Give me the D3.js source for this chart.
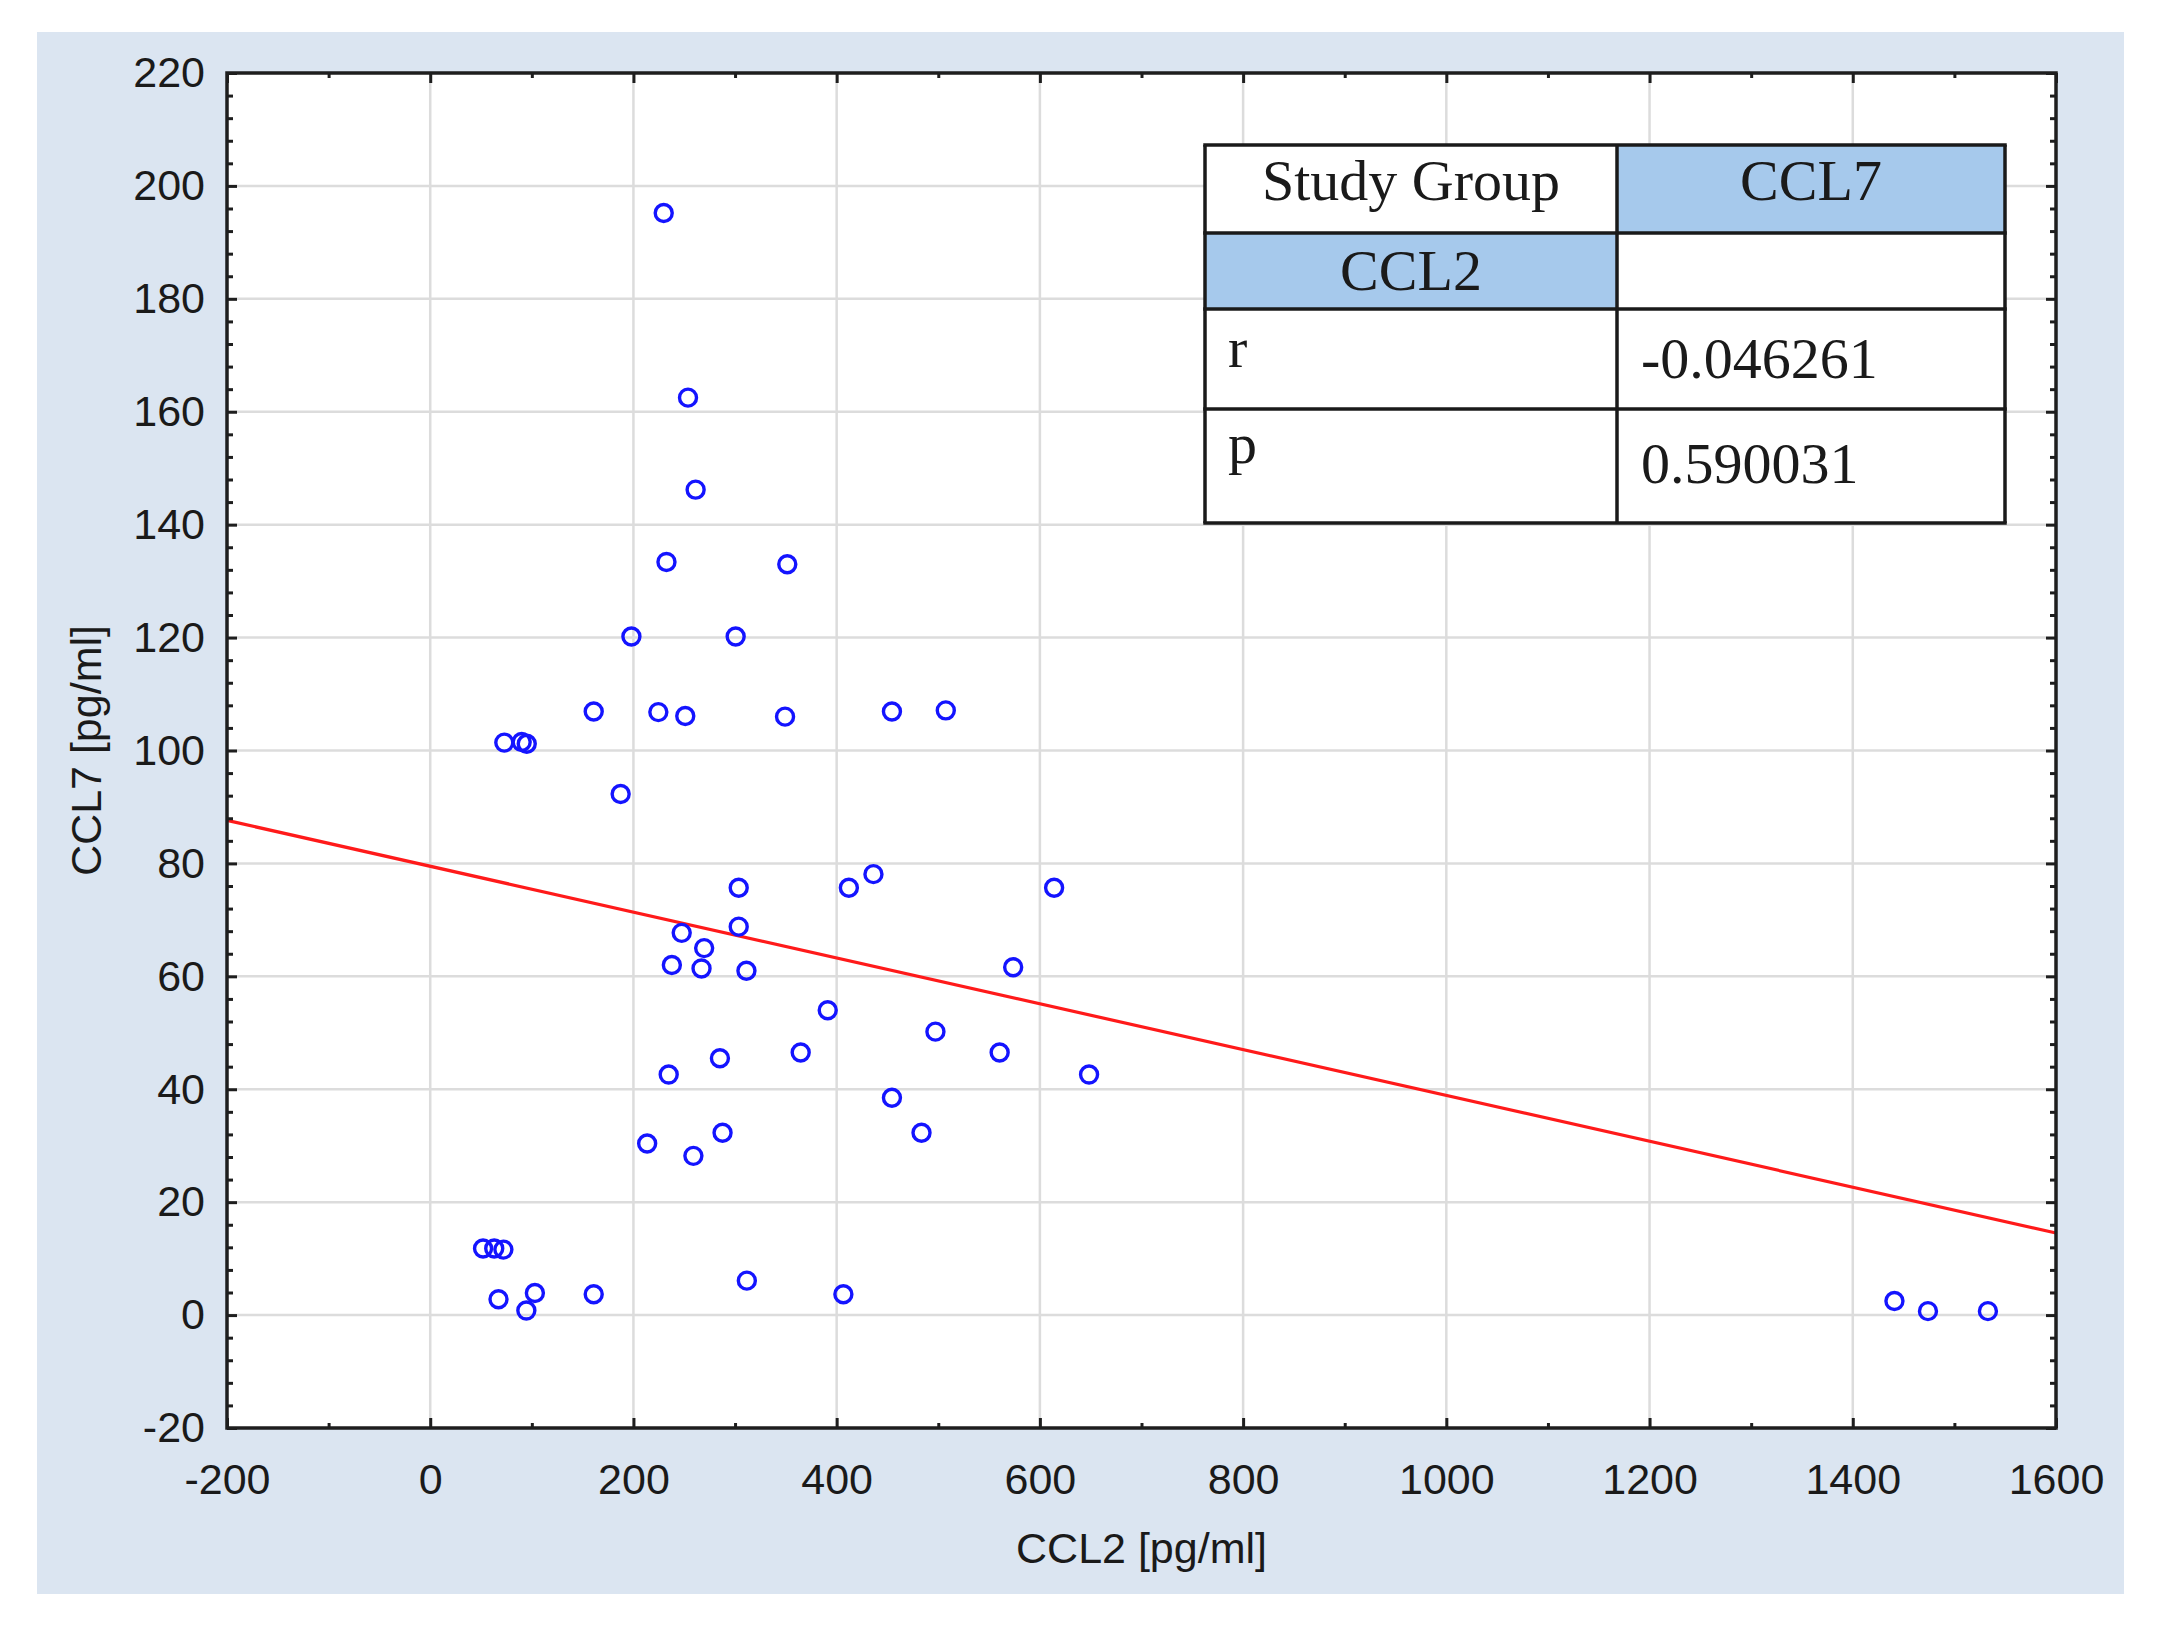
<!DOCTYPE html>
<html>
  <head>
    <meta charset="UTF-8" />
    <style>
      body {
        margin: 0;
        background: #fff;
      }
      text {
        fill: #1a1a1a;
      }
      .sans {
        font-family: "Liberation Sans", Arial, sans-serif;
      }
      .serif {
        font-family: "Liberation Serif", "Times New Roman", serif;
      }
    </style>
  </head>
  <body>
    <svg></svg>
    <script src="https://d3js.org/d3.v7.min.js"></script>

    <script>
      // CCL2 (x) vs CCL7 (y)
      const ccl2 = [
        229.8, 253.7, 261.2, 232.5, 351.4, 198, 300.6, 160.9, 224.5, 251,
        349.2, 454.4, 507.4, 72.9, 90, 95, 187.4, 303.6, 412, 436.2, 614,
        247.5, 303.6, 269.6, 237.8, 267, 311.2, 573.7, 391.2, 497.2, 364.6,
        560.4, 285.1, 234.7, 648.4, 454.4, 287.7, 483.5, 213.5, 259, 52, 63,
        72, 67.2, 94.6, 103, 160.9, 311.6, 406.6, 1441, 1474, 1533,
      ];
      const ccl7 = [
        195.2, 162.5, 146.2, 133.4, 133, 120.2, 120.2, 106.9, 106.8, 106.1,
        106, 106.9, 107.1, 101.4, 101.5, 101.2, 92.3, 75.7, 75.7, 78.1, 75.7,
        67.7, 68.8, 65, 62, 61.4, 61, 61.6, 54, 50.2, 46.5, 46.5, 45.5, 42.6,
        42.6, 38.5, 32.3, 32.3, 30.4, 28.2, 11.8, 11.8, 11.6, 2.8, 0.8, 3.9,
        3.7, 6.1, 3.7, 2.5, 0.7, 0.7,
      ];

      // fitted line: [intercept, slope]
      const fit = [79.5, -0.0406];

      const xTicks = [-200, 0, 200, 400, 600, 800, 1000, 1200, 1400, 1600];
      const yTicks = [-20, 0, 20, 40, 60, 80, 100, 120, 140, 160, 180, 200, 220];

      // correlation table
      const tableHead = ["Study Group", "CCL7"];
      const tableVar = "CCL2";
      const statNames = ["r", "p"];
      const statValues = ["-0.046261", "0.590031"];

      let width = 2157,
        height = 1630;

      let svg = d3
        .select("svg")
        .attr("width", width)
        .attr("height", height)
        .attr("viewBox", "0 0 " + width + " " + height);

      let pLeft = 227,
        pRight = 2056,
        pTop = 73,
        pBottom = 1428;

      let x = d3.scaleLinear().domain([-200, 1600]).range([pLeft, pRight]);
      let y = d3.scaleLinear().domain([-20, 220]).range([pBottom, pTop]);

      // outer panel
      svg
        .append("rect")
        .attr("x", 37)
        .attr("y", 32)
        .attr("width", 2087)
        .attr("height", 1562)
        .attr("fill", "#dbe5f1");

      svg
        .append("rect")
        .attr("x", pLeft)
        .attr("y", pTop)
        .attr("width", pRight - pLeft)
        .attr("height", pBottom - pTop)
        .attr("fill", "#fff");

      // grid
      let grid = svg.append("g").attr("stroke", "#dcdcdc").attr("stroke-width", 2.5);
      grid
        .selectAll("line.gx")
        .data(xTicks.slice(1, -1))
        .enter()
        .append("line")
        .attr("x1", (d) => x(d))
        .attr("x2", (d) => x(d))
        .attr("y1", pTop)
        .attr("y2", pBottom);
      grid
        .selectAll("line.gy")
        .data(yTicks.slice(1, -1))
        .enter()
        .append("line")
        .attr("x1", pLeft)
        .attr("x2", pRight)
        .attr("y1", (d) => y(d))
        .attr("y2", (d) => y(d));

      // regression line
      svg
        .append("line")
        .attr("x1", x(-200))
        .attr("y1", y(fit[0] + fit[1] * -200))
        .attr("x2", x(1600))
        .attr("y2", y(fit[0] + fit[1] * 1600))
        .attr("stroke", "#ff1a1a")
        .attr("stroke-width", 3.2);

      // points
      svg
        .append("g")
        .selectAll("circle")
        .data(ccl2)
        .enter()
        .append("circle")
        .attr("cx", (d) => x(d))
        .attr("cy", (d, i) => y(ccl7[i]))
        .attr("r", 8.5)
        .attr("fill", "none")
        .attr("stroke", "#1414ff")
        .attr("stroke-width", 3.4);

      // axes, ticks pointing inwards on all four sides
      let xMinor = d3.range(-100, 1600, 200);
      let yMinor = d3.range(-20, 221, 4).filter((d) => d % 20 != 0);
      let plain = (d) => String(d);

      function styleAxis(g) {
        g.attr("font-family", null).attr("font-size", null);
        g.select(".domain").remove();
        g.selectAll(".tick line").attr("stroke", "#1e1e1e").attr("stroke-width", 3);
        g.selectAll("text")
          .attr("class", "sans")
          .style("font-size", "43px")
          .attr("fill", "#1a1a1a");
      }

      svg
        .append("g")
        .attr("transform", "translate(0," + pBottom + ")")
        .call(
          d3.axisBottom(x).tickValues(xTicks).tickFormat(plain)
            .tickSizeInner(-10).tickSizeOuter(0).tickPadding(35)
        )
        .call(styleAxis);
      svg
        .append("g")
        .attr("transform", "translate(0," + pBottom + ")")
        .call(d3.axisBottom(x).tickValues(xMinor).tickSize(-5).tickFormat(""))
        .call(styleAxis);
      svg
        .append("g")
        .attr("transform", "translate(0," + pTop + ")")
        .call(d3.axisTop(x).tickValues(xTicks).tickSize(-10).tickFormat(""))
        .call(styleAxis);
      svg
        .append("g")
        .attr("transform", "translate(0," + pTop + ")")
        .call(d3.axisTop(x).tickValues(xMinor).tickSize(-5).tickFormat(""))
        .call(styleAxis);

      svg
        .append("g")
        .attr("transform", "translate(" + pLeft + ",0)")
        .call(
          d3.axisLeft(y).tickValues(yTicks).tickFormat(plain)
            .tickSizeInner(-10).tickSizeOuter(0).tickPadding(22)
        )
        .call(styleAxis);
      svg
        .append("g")
        .attr("transform", "translate(" + pLeft + ",0)")
        .call(d3.axisLeft(y).tickValues(yMinor).tickSize(-6).tickFormat(""))
        .call(styleAxis);
      svg
        .append("g")
        .attr("transform", "translate(" + pRight + ",0)")
        .call(d3.axisRight(y).tickValues(yTicks).tickSize(-10).tickFormat(""))
        .call(styleAxis);
      svg
        .append("g")
        .attr("transform", "translate(" + pRight + ",0)")
        .call(d3.axisRight(y).tickValues(yMinor).tickSize(-6).tickFormat(""))
        .call(styleAxis);

      // frame
      svg
        .append("rect")
        .attr("x", pLeft)
        .attr("y", pTop)
        .attr("width", pRight - pLeft)
        .attr("height", pBottom - pTop)
        .attr("fill", "none")
        .attr("stroke", "#1e1e1e")
        .attr("stroke-width", 3.5);

      // axis titles
      svg
        .append("text")
        .attr("class", "sans")
        .attr("x", (pLeft + pRight) / 2)
        .attr("y", 1563)
        .attr("text-anchor", "middle")
        .style("font-size", "43px")
        .text("CCL2 [pg/ml]");
      svg
        .append("text")
        .attr("class", "sans")
        .attr("transform", "translate(101," + (pTop + pBottom) / 2 + ") rotate(-90)")
        .attr("text-anchor", "middle")
        .style("font-size", "43px")
        .text("CCL7 [pg/ml]");

      // table
      let cols = [1205, 1617, 2005];
      let rows = [145, 233, 309, 409, 523];
      let table = svg.append("g");

      table
        .append("rect")
        .attr("x", cols[0])
        .attr("y", rows[0])
        .attr("width", cols[2] - cols[0])
        .attr("height", rows[4] - rows[0])
        .attr("fill", "#fff");
      table
        .append("rect")
        .attr("x", cols[1])
        .attr("y", rows[0])
        .attr("width", cols[2] - cols[1])
        .attr("height", rows[1] - rows[0])
        .attr("fill", "#a6c9ec");
      table
        .append("rect")
        .attr("x", cols[0])
        .attr("y", rows[1])
        .attr("width", cols[1] - cols[0])
        .attr("height", rows[2] - rows[1])
        .attr("fill", "#a6c9ec");

      table
        .selectAll("line.h")
        .data(rows)
        .enter()
        .append("line")
        .attr("x1", cols[0] - 1.75)
        .attr("x2", cols[2] + 1.75)
        .attr("y1", (d) => d)
        .attr("y2", (d) => d)
        .attr("stroke", "#1a1a1a")
        .attr("stroke-width", 3.5);
      table
        .selectAll("line.v")
        .data(cols)
        .enter()
        .append("line")
        .attr("x1", (d) => d)
        .attr("x2", (d) => d)
        .attr("y1", rows[0])
        .attr("y2", rows[4])
        .attr("stroke", "#1a1a1a")
        .attr("stroke-width", 3.5);

      let cellText = table
        .append("g")
        .attr("class", "serif")
        .style("font-size", "58px");

      cellText
        .selectAll("text.head")
        .data(tableHead)
        .enter()
        .append("text")
        .attr("x", (d, i) => (cols[i] + cols[i + 1]) / 2)
        .attr("y", 200)
        .attr("text-anchor", "middle")
        .text((d) => d);
      cellText
        .append("text")
        .attr("x", (cols[0] + cols[1]) / 2)
        .attr("y", 290)
        .attr("text-anchor", "middle")
        .text(tableVar);
      cellText
        .selectAll("text.name")
        .data(statNames)
        .enter()
        .append("text")
        .attr("x", 1228)
        .attr("y", (d, i) => [367, 463][i])
        .text((d) => d);
      cellText
        .selectAll("text.val")
        .data(statValues)
        .enter()
        .append("text")
        .attr("x", 1641)
        .attr("y", (d, i) => [378, 483][i])
        .text((d) => d);
    </script>
  </body>
</html>
